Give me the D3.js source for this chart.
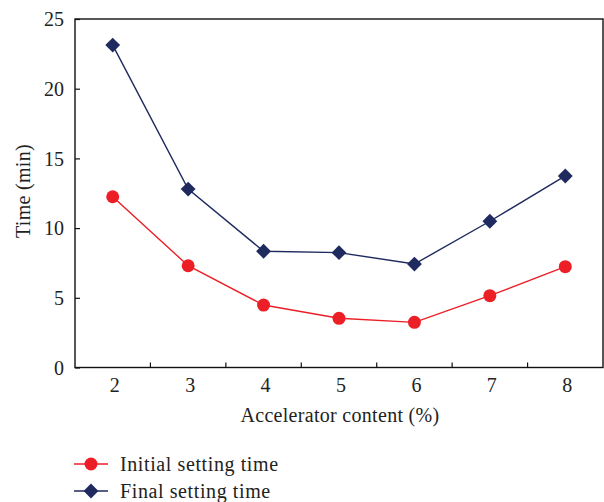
<!DOCTYPE html>
<html>
<head>
<meta charset="utf-8">
<script src="https://cdn.jsdelivr.net/npm/d3@7"></script>
<style>
  html, body { margin: 0; padding: 0; background: #fff; }
  svg text { font-family: "Liberation Serif", "DejaVu Serif", serif; fill: #222; }
</style>
</head>
<body>
<svg id="chart" width="604" height="502"></svg>
<script>
// Accelerator content (%) on the x axis
const categories = [2, 3, 4, 5, 6, 7, 8];
// Setting times in minutes
const initialSetting = [12.25, 7.30, 4.48, 3.53, 3.24, 5.15, 7.23];
const finalSetting = [23.13, 12.80, 8.34, 8.24, 7.42, 10.49, 13.74];
const yTicks = [0, 5, 10, 15, 20, 25];
const seriesNames = ["Initial setting time", "Final setting time"];

const red = "#ec1f27";
const navy = "#1f2a5e";
const fontSize = 20;

const svg = d3.select("#chart");
const margin = { left: 75, top: 19, right: 603, bottom: 367.5 };

const x = d3.scaleBand().domain(categories).range([margin.left, margin.right]).padding(0);
const y = d3.scaleLinear().domain([0, 25]).range([margin.bottom, margin.top]);
const cx = d => x(d) + x.bandwidth() / 2;

// Plot frame
svg.append("rect")
  .attr("x", margin.left).attr("y", margin.top)
  .attr("width", margin.right - margin.left).attr("height", margin.bottom - margin.top)
  .attr("fill", "none").attr("stroke", "#111").attr("stroke-width", 1.4);

// Y axis: ticks point inward
const yAxis = svg.append("g").attr("transform", `translate(${margin.left},0)`)
  .call(d3.axisLeft(y).tickValues(yTicks).tickSizeInner(-5).tickSizeOuter(0).tickPadding(11));
yAxis.attr("font-family", null).attr("font-size", null);
yAxis.select(".domain").remove();
yAxis.selectAll(".tick line").attr("stroke", "#111").attr("stroke-width", 1.2);
yAxis.selectAll(".tick text").attr("font-size", fontSize).attr("fill", "#222")
  .attr("dy", "0.34em");

// X axis: ticks sit on the category boundaries, labels at category centres
const boundaries = categories.slice(1);
svg.append("g").selectAll("line").data(boundaries).join("line")
  .attr("x1", d => x(d)).attr("x2", d => x(d))
  .attr("y1", margin.bottom).attr("y2", margin.bottom - 5)
  .attr("stroke", "#111").attr("stroke-width", 1.2);
svg.append("g").selectAll("text").data(categories).join("text")
  .attr("x", d => cx(d) + 2).attr("y", 392)
  .attr("text-anchor", "middle").attr("font-size", fontSize)
  .text(d => d);

// Axis titles
svg.append("text").attr("x", 340).attr("y", 422)
  .attr("text-anchor", "middle").attr("font-size", fontSize)
  .attr("letter-spacing", 0.3)
  .text("Accelerator content (%)");
svg.append("text")
  .attr("transform", "translate(30,191) rotate(-90)")
  .attr("text-anchor", "middle").attr("font-size", fontSize)
  .attr("letter-spacing", 0.3)
  .text("Time (min)");

const line = d3.line().x((d, i) => cx(categories[i])).y(d => y(d));
const diamond = d3.symbol().type(d3.symbolSquare).size(110);

// Final setting time
svg.append("path").datum(finalSetting).attr("d", line)
  .attr("fill", "none").attr("stroke", navy).attr("stroke-width", 1.4);
svg.append("g").selectAll("path").data(finalSetting).join("path")
  .attr("d", diamond)
  .attr("transform", (d, i) => `translate(${cx(categories[i])},${y(d)}) rotate(45)`)
  .attr("fill", navy);

// Initial setting time
svg.append("path").datum(initialSetting).attr("d", line)
  .attr("fill", "none").attr("stroke", red).attr("stroke-width", 1.4);
svg.append("g").selectAll("circle").data(initialSetting).join("circle")
  .attr("cx", (d, i) => cx(categories[i])).attr("cy", d => y(d))
  .attr("r", 6.5).attr("fill", red);

// Legend
const legend = svg.append("g");
const legY = [464, 491];
[red, navy].forEach((c, i) => {
  legend.append("line").attr("x1", 74).attr("x2", 108)
    .attr("y1", legY[i]).attr("y2", legY[i]).attr("stroke", c).attr("stroke-width", 1.4);
  if (i === 0) {
    legend.append("circle").attr("cx", 91).attr("cy", legY[i]).attr("r", 6.5).attr("fill", c);
  } else {
    legend.append("path").attr("d", diamond)
      .attr("transform", `translate(91,${legY[i]}) rotate(45)`).attr("fill", c);
  }
  legend.append("text").attr("x", 120).attr("y", legY[i] + 6.5)
    .attr("font-size", fontSize).attr("letter-spacing", 0.6).text(seriesNames[i]);
});
</script>
</body>
</html>
